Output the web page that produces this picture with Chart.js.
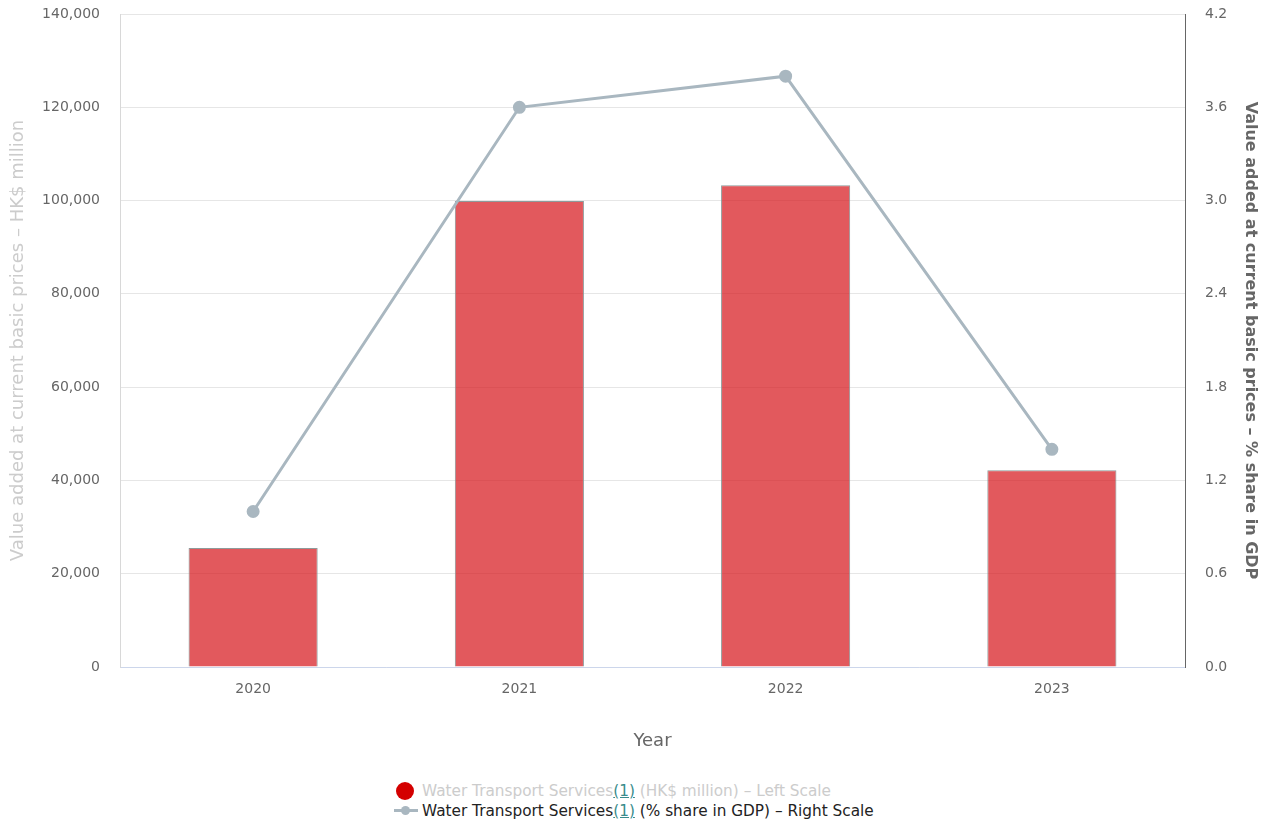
<!DOCTYPE html>
<html>
<head>
<meta charset="utf-8">
<script src="https://cdn.jsdelivr.net/npm/chart.js@4/dist/chart.umd.min.js"></script>
<style>
  body { margin: 0; background: #fff; font-family: "DejaVu Sans", sans-serif; }
  #wrap { position: relative; width: 1266px; height: 825px; }
  #chartBox { position: absolute; left: 0; top: 0; width: 1266px; height: 770px; }
  #legend { position: absolute; left: 394px; top: 781px; font-size: 15.3px; line-height: 20px; }
  .item { display: flex; align-items: center; white-space: nowrap; }
  .item .mk { width: 26px; height: 20px; position: relative; margin-right: 2px; }
  .off { color: #cccccc; }
  .on { color: #222222; }
  .ref { color: #3a8c8c; text-decoration: underline; }
</style>
</head>
<body>
<div id="wrap">
  <div id="chartBox"><canvas id="chart"></canvas></div>
  <div id="legend">
    <div class="item off">
      <span class="mk"><span style="position:absolute;left:2px;top:1px;width:18px;height:18px;border-radius:50%;background:#d40000"></span></span>
      <span>Water Transport Services<span class="ref">(1)</span> (HK$ million) – Left Scale</span>
    </div>
    <div class="item on">
      <span class="mk"><span style="position:absolute;left:0;top:8px;width:24px;height:3px;background:#a9b7c0"></span><span style="position:absolute;left:7px;top:5px;width:9px;height:9px;border-radius:50%;background:#a9b7c0"></span></span>
      <span>Water Transport Services<span class="ref">(1)</span> (% share in GDP) – Right Scale</span>
    </div>
  </div>
</div>
<script>
const years = ["2020", "2021", "2022", "2023"];
const valueAdded = [25500, 99900, 103300, 42200];   // HK$ million
const gdpShare = [1.0, 3.6, 3.8, 1.4];               // % share in GDP

const leftTicks = [0, 20000, 40000, 60000, 80000, 100000, 120000, 140000];
const rightTicks = [0.0, 0.6, 1.2, 1.8, 2.4, 3.0, 3.6, 4.2];

const tickFont = { family: "DejaVu Sans", size: 14 };
const titleFont = { family: "DejaVu Sans", size: 18 };

// y axes: fixed width, and no extra top padding for the tick labels
function fixWidth(w) {
  return function (scale) {
    scale.width = w;
    scale.paddingTop = 0;
    scale.paddingBottom = 0;
  };
}

new Chart(document.getElementById("chart"), {
  data: {
    labels: years,
    datasets: [
      {
        type: "line",
        label: "Water Transport Services(1) (% share in GDP) - Right Scale",
        data: gdpShare,
        yAxisID: "y1",
        borderColor: "#a9b7c0",
        backgroundColor: "#a9b7c0",
        borderWidth: 3,
        pointRadius: 5,
        pointHoverRadius: 5,
        tension: 0,
        order: 1,
      },
      {
        type: "bar",
        label: "Water Transport Services(1) (HK$ million) - Left Scale",
        data: valueAdded,
        yAxisID: "y",
        backgroundColor: "rgba(215, 25, 30, 0.72)",
        borderColor: "#8f9a9a",
        borderWidth: 1,
        barPercentage: 1,
        categoryPercentage: 0.485,
        order: 2,
      },
    ],
  },
  options: {
    responsive: true,
    maintainAspectRatio: false,
    animation: false,
    layout: { padding: { top: 14, right: 0, left: 0, bottom: 0 } },
    plugins: {
      legend: { display: false },
      tooltip: { enabled: false },
    },
    scales: {
      x: {
        grid: { display: false, drawTicks: false },
        border: { color: "#ccd6eb", width: 1 },
        ticks: { color: "#666", font: tickFont, padding: 14 },
        title: { display: true, text: "Year", color: "#666", font: titleFont, padding: { top: 12, bottom: 18 } },
        afterFit(scale) {
          scale.height = 103;
          scale.paddingLeft = 0;
          scale.paddingRight = 0;
        },
      },
      y: {
        position: "left",
        min: 0,
        max: 140000,
        afterBuildTicks(scale) { scale.ticks = leftTicks.map(v => ({ value: v })); },
        ticks: {
          color: "#666",
          font: tickFont,
          padding: 20,
          callback: v => v.toLocaleString("en-US"),
        },
        grid: { color: "#e6e6e6", drawTicks: false },
        border: { color: "#d8d8d8", width: 1 },
        title: { display: true, text: "Value added at current basic prices – HK$ million", color: "#cccccc", font: titleFont, padding: { top: 8, bottom: 0 } },
        afterFit: fixWidth(120),
      },
      y1: {
        position: "right",
        min: 0,
        max: 4.2,
        afterBuildTicks(scale) { scale.ticks = rightTicks.map(v => ({ value: v })); },
        ticks: {
          color: "#666",
          font: tickFont,
          padding: 20,
          callback: v => v.toFixed(1),
        },
        grid: { display: false, drawTicks: false },
        border: { color: "#666", width: 1 },
        title: { display: true, text: "Value added at current basic prices – % share in GDP", color: "#666", font: { family: "DejaVu Sans", size: 16, weight: "bold" }, padding: { top: 6, bottom: 0 } },
        afterFit: fixWidth(81),
      },
    },
  },
});
</script>
</body>
</html>
